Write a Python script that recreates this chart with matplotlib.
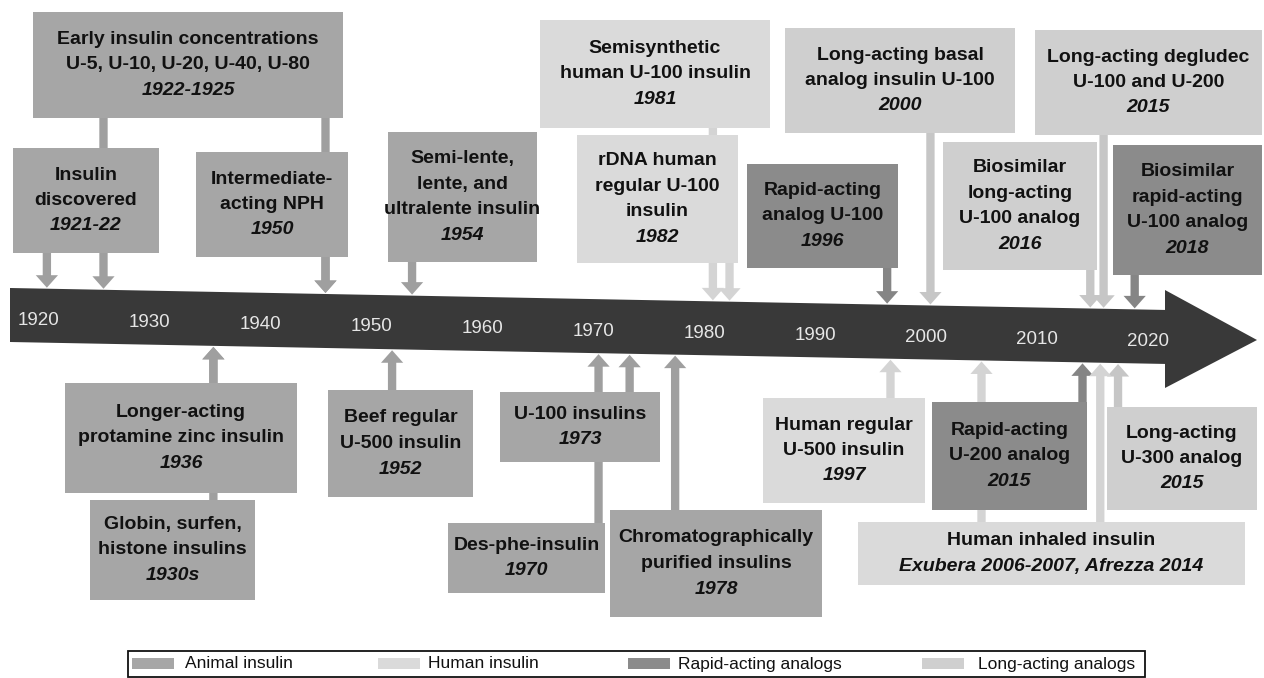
"""Insulin development timeline, 1920-2020, redrawn as a matplotlib figure."""

import matplotlib

matplotlib.use("Agg")
import matplotlib.pyplot as plt
from matplotlib import font_manager
from matplotlib.patches import Polygon, Rectangle

# ---- data -------------------------------------------------------------
decades = [1920, 1930, 1940, 1950, 1960, 1970, 1980, 1990, 2000, 2010, 2020]

labels = [
    "Early insulin concentrations\nU-5, U-10, U-20, U-40, U-80",
    "Insulin\ndiscovered",
    "Intermediate-\nacting NPH",
    "Semi-lente,\nlente, and\nultralente insulin",
    "Semisynthetic\nhuman U-100 insulin",
    "rDNA human\nregular U-100\ninsulin",
    "Rapid-acting\nanalog U-100",
    "Long-acting basal\nanalog insulin U-100",
    "Long-acting degludec\nU-100 and U-200",
    "Biosimilar\nlong-acting\nU-100 analog",
    "Biosimilar\nrapid-acting\nU-100 analog",
    "Longer-acting\nprotamine zinc insulin",
    "Globin, surfen,\nhistone insulins",
    "Beef regular\nU-500 insulin",
    "U-100 insulins",
    "Des-phe-insulin",
    "Chromatographically\npurified insulins",
    "Human regular\nU-500 insulin",
    "Rapid-acting\nU-200 analog",
    "Long-acting\nU-300 analog",
    "Human inhaled insulin",
]
year_texts = [
    "1922-1925", "1921-22", "1950", "1954", "1981", "1982", "1996", "2000",
    "2015", "2016", "2018", "1936", "1930s", "1952", "1973", "1970", "1978",
    "1997", "2015", "2015", "Exubera 2006-2007, Afrezza 2014",
]
categories = [
    "animal", "animal", "animal", "animal", "human", "human", "rapid", "long",
    "long", "long", "rapid", "animal", "animal", "animal", "animal", "animal",
    "animal", "human", "rapid", "long", "human",
]
sides = ["top"] * 11 + ["bottom"] * 10
# where each arrow meets the time axis
marker_years = [
    [1925.9, 1945.9], [1920.8], [1945.9], [1953.7], [1980.8], [1982.3],
    [1996.5], [2000.4], [2016.0], [2014.8], [2018.8],
    [1935.8], [1935.8], [1951.9], [1973.3], [1970.5], [1977.4],
    [1996.8], [2014.1], [2017.3], [2005.0, 2015.7],
]

legend_keys = ["animal", "human", "rapid", "long"]
legend_names = ["Animal insulin", "Human insulin", "Rapid-acting analogs",
                "Long-acting analogs"]

# ---- layout (pixels of the 1264x678 canvas) ---------------------------
W, H = 1264, 678
PX_PER_YEAR = 11.1
X0 = 1920 - 38 / PX_PER_YEAR

box_px = [
    (33, 12, 343, 118), (13, 148, 159, 253), (196, 152, 348, 257),
    (388, 132, 537, 262), (540, 20, 770, 128), (577, 135, 738, 263),
    (747, 164, 898, 268), (785, 28, 1015, 133), (1035, 30, 1262, 135),
    (943, 142, 1097, 270), (1113, 145, 1262, 275),
    (65, 383, 297, 493), (90, 500, 255, 600), (328, 390, 473, 497),
    (500, 392, 660, 462), (448, 523, 605, 593), (610, 510, 822, 617),
    (763, 398, 925, 503), (932, 402, 1087, 510), (1107, 407, 1257, 510),
    (858, 522, 1245, 585),
]
legend_px = [(132, 185), (378, 428), (628, 678), (922, 978)]

box_colors = {"animal": "#a6a6a6", "human": "#dadada",
              "rapid": "#8b8b8b", "long": "#cfcfcf"}
arrow_colors = {"animal": "#9f9f9f", "human": "#d4d4d4",
                "rapid": "#858585", "long": "#c6c6c6"}


def yr(px):
    return X0 + px / PX_PER_YEAR


def band_top(px):
    return 288 + 0.019 * (px - 10)


def band_bottom(px):
    return 342 + 0.019 * (px - 10)


names = {f.name for f in font_manager.fontManager.ttflist}
if "Liberation Sans Narrow" in names:
    FAMILY, BOX_FS, LEG_FS, TICK_FS = "Liberation Sans Narrow", 16.5, 14.5, 15
else:
    FAMILY, BOX_FS, LEG_FS, TICK_FS = "Liberation Sans", 14, 12.5, 13.5
LINE = 25.5

fig = plt.figure(figsize=(W / 100, H / 100), dpi=100)
ax = fig.add_axes([0, 0, 1, 1])
ax.set_xlim(yr(0), yr(W))
ax.set_ylim(H, 0)
ax.axis("off")

# time axis arrow
band = [(10, band_top(10)), (1165, band_top(1165)), (1165, 290), (1257, 340),
        (1165, 388), (1165, band_bottom(1165)), (10, band_bottom(10))]
ax.add_patch(Polygon([(yr(x), y) for x, y in band], closed=True,
                     facecolor="#393939", edgecolor="none", zorder=1))
for d in decades:
    px = (d - X0) * PX_PER_YEAR
    yc = (band_top(px) + band_bottom(px)) / 2 + 5
    ax.text(d, yc, str(d), ha="center", va="center", color="#e6e6e6",
            fontsize=TICK_FS, family=FAMILY, zorder=3)

# arrows and boxes
for i, label in enumerate(labels):
    x0, y0, x1, y1 = box_px[i]
    cat = categories[i]
    for m in marker_years[i]:
        px = (m - X0) * PX_PER_YEAR
        if sides[i] == "top":
            start, tip = y1, band_top(px) - 1
        else:
            start, tip = y0, band_bottom(px) + 1
        ax.annotate("", xy=(m, tip), xytext=(m, start), zorder=0.5,
                    arrowprops=dict(arrowstyle="simple,head_length=0.45,"
                                    "head_width=0.8,tail_width=0.3",
                                    mutation_scale=20, color=arrow_colors[cat],
                                    shrinkA=0, shrinkB=0, lw=0))
    ax.add_patch(Rectangle((yr(x0), y0), yr(x1) - yr(x0), y1 - y0,
                           facecolor=box_colors[cat], edgecolor="none",
                           zorder=2))
    lines = label.split("\n") + [year_texts[i]]
    xc, yc = yr((x0 + x1) / 2), (y0 + y1) / 2
    n = len(lines)
    for k, line in enumerate(lines):
        ax.text(xc, yc + (k - (n - 1) / 2) * LINE, line, ha="center",
                va="center", fontsize=BOX_FS, family=FAMILY,
                fontweight="bold", style="italic" if k == n - 1 else "normal",
                color="#111111", zorder=3)

# legend
ax.add_patch(Rectangle((yr(128), 651), yr(1145) - yr(128), 26,
                       facecolor="none", edgecolor="#111111", lw=1.3,
                       zorder=3))
for key, name, (sx, tx) in zip(legend_keys, legend_names, legend_px):
    ax.add_patch(Rectangle((yr(sx), 658), yr(sx + 42) - yr(sx), 11,
                           facecolor=box_colors[key], edgecolor="none",
                           zorder=3))
    ax.text(yr(tx), 664, name, ha="left", va="center", fontsize=LEG_FS,
            family=FAMILY, color="#111111", zorder=3)

fig.savefig("out.png", dpi=100)
